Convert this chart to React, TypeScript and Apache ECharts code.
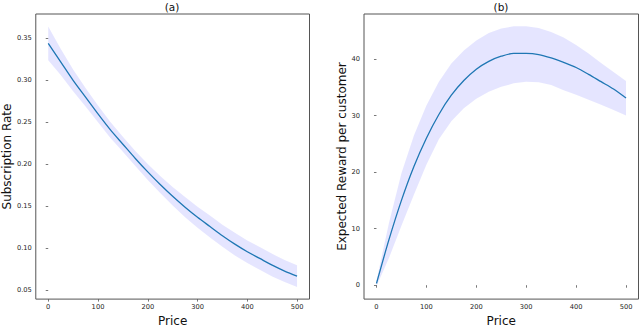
import React, { useEffect, useRef } from "react";
import * as echarts from "echarts";

const prices = [0, 25, 50, 75, 100, 125, 150, 175, 200, 225, 250, 275, 300, 325, 350, 375, 400, 425, 450, 475, 500];

const rateMean = [0.344, 0.322, 0.300, 0.280, 0.260, 0.241, 0.224, 0.207, 0.191, 0.176, 0.162, 0.149, 0.137, 0.126, 0.115, 0.105, 0.096, 0.088, 0.080, 0.073, 0.067];
const rateUpper = [0.364, 0.3375, 0.313, 0.291, 0.270, 0.2505, 0.233, 0.216, 0.2005, 0.186, 0.173, 0.161, 0.1495, 0.139, 0.128, 0.1185, 0.1095, 0.1015, 0.0935, 0.086, 0.080];
const rateLower = [0.324, 0.3065, 0.287, 0.269, 0.250, 0.2315, 0.215, 0.198, 0.1815, 0.166, 0.151, 0.137, 0.1245, 0.113, 0.102, 0.0915, 0.0825, 0.0745, 0.0665, 0.060, 0.054];

const rewardMean = [0.3, 8.05, 15.0, 21.0, 26.0, 30.2, 33.6, 36.2, 38.2, 39.6, 40.5, 41.0, 41.0, 40.8, 40.2, 39.4, 38.5, 37.3, 36.0, 34.7, 33.1];
const rewardUpper = [0.8, 11.0, 19.8, 26.5, 31.8, 36.0, 39.2, 41.5, 43.3, 44.6, 45.4, 45.8, 45.8, 45.5, 44.8, 43.8, 42.5, 41.0, 39.3, 37.7, 36.1];
const rewardLower = [-0.2, 4.8, 10.5, 16.0, 21.3, 25.8, 29.0, 31.3, 33.0, 34.2, 35.1, 35.7, 36.0, 35.9, 35.4, 34.5, 33.7, 32.8, 31.9, 31.0, 30.0];

const priceTicks = [0, 100, 200, 300, 400, 500];
const rateTicks = [0.05, 0.1, 0.15, 0.2, 0.25, 0.3, 0.35];
const rewardTicks = [0, 10, 20, 30, 40];

const FONT = "DejaVu Sans";
const LINE_COLOR = "#1f77b4";
const BAND_COLOR = "rgba(0,0,255,0.1)";
const SPINE = "#555";

function pairs(xs: number[], ys: number[]) {
  return xs.map((x, i) => [x, ys[i]]);
}

function bandSeries(idx: number, lower: number[], upper: number[]) {
  return {
    type: "custom",
    coordinateSystem: "cartesian2d",
    xAxisIndex: idx,
    yAxisIndex: idx,
    data: [[prices[0], lower[0]]],
    silent: true,
    z: 1,
    renderItem: (_params: any, api: any) => {
      const pts: number[][] = [];
      for (let i = 0; i < prices.length; i++) pts.push(api.coord([prices[i], upper[i]]));
      for (let i = prices.length - 1; i >= 0; i--) pts.push(api.coord([prices[i], lower[i]]));
      return {
        type: "polygon",
        shape: { points: pts },
        style: { fill: BAND_COLOR, stroke: "none" },
      };
    },
  };
}

function xAxisCfg(idx: number) {
  return {
    type: "value",
    gridIndex: idx,
    min: -25,
    max: 525,
    name: "Price",
    nameLocation: "middle",
    nameGap: 12,
    nameTextStyle: { fontFamily: FONT, fontSize: 12, color: "#111" },
    axisLine: { show: false },
    axisTick: { show: true, inside: false, length: 2.5, lineStyle: { color: SPINE, width: 0.8 }, customValues: priceTicks },
    axisLabel: { fontFamily: FONT, fontSize: 6.7, color: "#222", margin: 4, customValues: priceTicks, formatter: (v: number) => String(Math.round(v)) },
    splitLine: { show: false },
  };
}

export default function App() {
  const ref = useRef<HTMLDivElement>(null);
  useEffect(() => {
    if (!ref.current) return;
    const chart = echarts.init(ref.current, null, { renderer: "svg" });
    chart.setOption({
      animation: false,
      backgroundColor: "#fff",
      grid: [
        { left: 35, top: 14, width: 274.5, height: 293, show: true, borderColor: SPINE, borderWidth: 1, backgroundColor: "transparent" },
        { left: 364, top: 14, width: 274.5, height: 293, show: true, borderColor: SPINE, borderWidth: 1, backgroundColor: "transparent" },
      ],
      xAxis: [xAxisCfg(0), xAxisCfg(1)],
      yAxis: [
        {
          type: "value",
          gridIndex: 0,
          min: 0.0396,
          max: 0.379,
          name: "Subscription Rate",
          nameLocation: "middle",
          nameGap: 22,
          nameTextStyle: { fontFamily: FONT, fontSize: 12, color: "#111" },
          axisLine: { show: false },
          axisTick: { show: true, length: 2.5, lineStyle: { color: SPINE, width: 0.8 }, customValues: rateTicks },
          axisLabel: { fontFamily: FONT, fontSize: 6.7, color: "#222", margin: 4, customValues: rateTicks, formatter: (v: number) => v.toFixed(2) },
          splitLine: { show: false },
        },
        {
          type: "value",
          gridIndex: 1,
          min: -2.46,
          max: 47.97,
          name: "Expected Reward per customer",
          nameLocation: "middle",
          nameGap: 13,
          nameTextStyle: { fontFamily: FONT, fontSize: 12, color: "#111" },
          axisLine: { show: false },
          axisTick: { show: true, length: 2.5, lineStyle: { color: SPINE, width: 0.8 }, customValues: rewardTicks },
          axisLabel: { fontFamily: FONT, fontSize: 6.7, color: "#222", margin: 4, customValues: rewardTicks, formatter: (v: number) => String(Math.round(v)) },
          splitLine: { show: false },
        },
      ],
      graphic: [
        { type: "text", x: 172, y: 7, style: { text: "(a)", fontFamily: FONT, fontSize: 10.5, fill: "#111", align: "center", verticalAlign: "middle" } },
        { type: "text", x: 501, y: 7, style: { text: "(b)", fontFamily: FONT, fontSize: 10.5, fill: "#111", align: "center", verticalAlign: "middle" } },
      ],
      series: [
        bandSeries(0, rateLower, rateUpper),
        {
          type: "line",
          xAxisIndex: 0,
          yAxisIndex: 0,
          data: pairs(prices, rateMean),
          smooth: 0.3,
          symbol: "none",
          z: 3,
          lineStyle: { color: LINE_COLOR, width: 1.3 },
        },
        bandSeries(1, rewardLower, rewardUpper),
        {
          type: "line",
          xAxisIndex: 1,
          yAxisIndex: 1,
          data: pairs(prices, rewardMean),
          smooth: 0.3,
          symbol: "none",
          z: 3,
          lineStyle: { color: LINE_COLOR, width: 1.3 },
        },
      ],
    });
    return () => chart.dispose();
  }, []);
  return (
    <div style={{ position: "fixed", left: 0, top: 0, width: 640, height: 332, background: "#fff" }}>
      <div ref={ref} style={{ width: 640, height: 332 }} />
    </div>
  );
}
